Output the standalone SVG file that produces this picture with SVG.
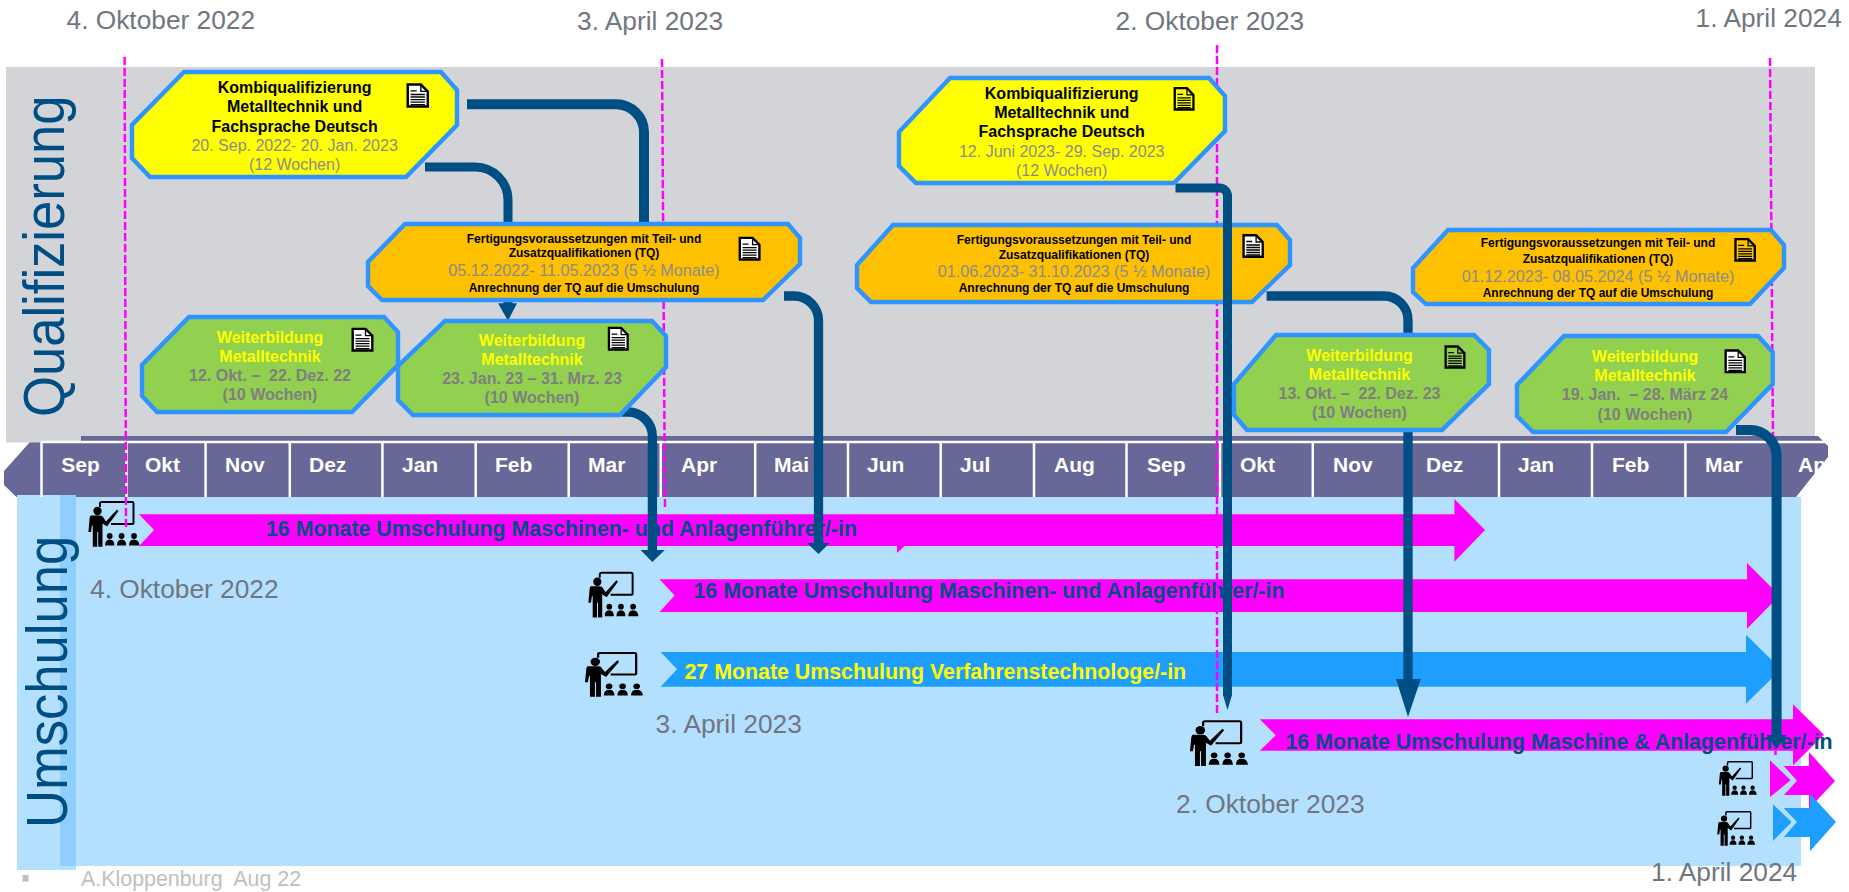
<svg xmlns="http://www.w3.org/2000/svg" xmlns:xlink="http://www.w3.org/1999/xlink" width="1849" height="892" viewBox="0 0 1849 892">
<style>
text{font-family:"Liberation Sans",Arial,sans-serif}
.date{font-size:26.3px;fill:#70767F}
.mon{font-size:21px;font-weight:bold;fill:#fff}
.sep{stroke:#fff;stroke-width:2.5;fill:none}
.side{font-size:52.6px;fill:#004F84}
.node{stroke:#2E94FF;stroke-width:4.4;stroke-linejoin:miter}
.y{fill:#FFFF00}.o{fill:#FFC000}.g{fill:#92D050}
.c{text-anchor:middle}
.b16{font-size:16px;font-weight:bold;fill:#000}
.r16{font-size:16px;fill:#8C8C8C}
.b12{font-size:12px;font-weight:bold;fill:#000}
.r157{font-size:16.2px;fill:#8C8C8C}
.wy{font-size:16px;font-weight:bold;fill:#FFFF00}
.wg{font-size:16px;font-weight:bold;fill:#7F7F7F;white-space:pre}
.bar{font-size:21.35px;font-weight:bold}
.m{fill:#FF00FF}.bl{fill:#1E9FFF}
.navy{fill:#004F84}
.pink{stroke:#FF00FF;stroke-width:2.5;stroke-dasharray:8 3;fill:none}
.con{stroke:#004F84;fill:none}
</style>
<defs>
<symbol id="doc" viewBox="0 0 22 24" preserveAspectRatio="none" overflow="visible">
<path d="M1.2,1.2H14L20.8,8V22.8H1.2Z" stroke="#000" stroke-width="2.4"/>
<path d="M14,1V8H21M4,7.5H10M4,11H18M4,13.5H18M4,16H18M4,18.5H18M4,21H18" stroke="#000" stroke-width="1.3" fill="none"/>
</symbol>
<symbol id="teach" viewBox="0 0 52 46" preserveAspectRatio="none" overflow="visible">
<circle cx="9.5" cy="10" r="4.2"/>
<path d="M3,14.5H12.5Q14,14.5 15,16L18,20.5L29,8.5L30.5,10L19,25.5L14.5,22.5V45.7H10.2V31H9.2V45.7H4.8V24.5L4,24.5L3,31H.4L1.6,17Q2,14.5 3,14.5Z"/>
<path d="M12,6V2.5Q12,1 13.5,1H44.5Q45.5,1 45.5,2.5V22Q45.5,23 44.5,23H23" fill="none" stroke="#000" stroke-width="2"/>
<circle cx="21.7" cy="35" r="2.9"/><circle cx="33.6" cy="35" r="2.9"/><circle cx="46" cy="35" r="2.9"/>
<path d="M17,44.5Q17,38.5 21.7,38.5Q26.4,38.5 26.4,44.5ZM29,44.5Q29,38.5 33.6,38.5Q38.2,38.5 38.2,44.5ZM41,44.5Q41,38.5 46,38.5Q51,38.5 51.5,44.5Z"/>
</symbol>
</defs>

<rect width="1849" height="892" fill="#fff"/>
<g id="panels">
<rect x="6" y="67" width="1809" height="372" fill="#D3D4D8"/>
<path d="M81,436H1818L1828,446V457L1796,497H16.5L4,485V471L30,442H81Z" fill="#676798"/>
<rect x="6" y="436" width="75" height="6.5" fill="#D3D4D8"/>
<rect x="17" y="495" width="59" height="375" fill="#B4E0FF"/>
<rect x="76" y="497" width="1725" height="369" fill="#B4E0FF"/>
<rect x="60" y="495" width="16" height="371" fill="#90CEFF"/>
<rect x="22.5" y="875" width="6" height="6.5" fill="#BFBFBF"/>
</g>
<g id="timeline">
<path class="sep" d="M41,442H1826M41.5,442V497M126.5,442V497M205.6,442V497M289.8,442V497M382.4,442V497M475.7,442V497M568.7,442V497M660.7,442V497M755.2,442V497M848,442V497M940.7,442V497M1034,442V497M1126.5,442V497M1220,442V497M1312.8,442V497M1405.8,442V497M1499,442V497M1592,442V497M1685.4,442V497"/>
<text class="mon" x="61.3" y="472">Sep</text><text class="mon" x="145" y="472">Okt</text><text class="mon" x="225" y="472">Nov</text><text class="mon" x="309" y="472">Dez</text><text class="mon" x="402" y="472">Jan</text><text class="mon" x="495" y="472">Feb</text><text class="mon" x="588" y="472">Mar</text><text class="mon" x="681" y="472">Apr</text><text class="mon" x="774" y="472">Mai</text><text class="mon" x="867" y="472">Jun</text><text class="mon" x="960" y="472">Jul</text><text class="mon" x="1054" y="472">Aug</text><text class="mon" x="1147" y="472">Sep</text><text class="mon" x="1240" y="472">Okt</text><text class="mon" x="1333" y="472">Nov</text><text class="mon" x="1426" y="472">Dez</text><text class="mon" x="1518" y="472">Jan</text><text class="mon" x="1612" y="472">Feb</text><text class="mon" x="1705" y="472">Mar</text><text class="mon" x="1798" y="472">Apr</text>
</g>
<text class="side" transform="translate(64,417) rotate(-90) scale(1,1.1)">Qualifizierung</text>
<text class="side" transform="translate(67,828) rotate(-90) scale(1,1.09)">Umschulung</text>

<g id="bar1"><path class="m" d="M139,514.3H1454.4V499L1485,530L1454.4,561.7V546H904.7L897,553V546H139L154,530Z"/>
<text class="bar navy" x="266" y="536">16 Monate Umschulung Maschinen- und Anlagenführer/-in</text></g>
<g id="bar2"><path class="m" d="M659.5,579.3H1747V563L1779.5,595.6L1747,628.7V612H659.5L674.6,595.5Z"/>
<text class="bar navy" x="693.5" y="598">16 Monate Umschulung Maschinen- und Anlagenführer/-in</text></g>
<g id="bar3"><path class="bl" d="M660.7,652H1746V634.7L1781,669.2L1746,703.7V686.7H660.7L677,669.3Z"/>
<text class="bar" fill="#FFFF00" x="684.5" y="679">27 Monate Umschulung Verfahrenstechnologe/-in</text></g>
<g id="bar4"><path class="m" d="M1259.8,719.3H1793V704.3L1824,734.7L1793,765.3V750.7H1259.8L1275.7,735.3Z"/>
<text class="bar navy" x="1285.5" y="748.7">16 Monate Umschulung Maschine &amp; Anlagenführer/-in</text></g>
<g id="arrow5"><path class="m" d="M1770,760.3L1790.6,780.3L1770,797ZM1783.8,766H1809V752L1835,781L1809,808.7V795H1784L1797,780.7Z"/></g>
<g id="arrow6"><path class="bl" d="M1773,804.3L1791.6,822L1773,841ZM1783.8,808H1810V793.7L1836,822L1810,851.3V837H1783.8L1797,822Z"/></g>

<g id="dates">
<text class="date" x="66.5" y="29">4. Oktober 2022</text>
<text class="date" x="577" y="30">3. April 2023</text>
<text class="date" x="1115.6" y="30">2. Oktober 2023</text>
<text class="date" x="1695.6" y="26.7">1. April 2024</text>
<text class="date" x="90" y="597.7">4. Oktober 2022</text>
<text class="date" x="655.6" y="732.7">3. April 2023</text>
<text class="date" x="1176" y="812.7">2. Oktober 2023</text>
<text class="date" x="1651" y="880.7">1. April 2024</text>
<text x="81" y="886.3" font-size="21.4" fill="#BFBFBF" style="white-space:pre">A.Kloppenburg  Aug 22</text>
</g>

<g id="icons">
<use xlink:href="#teach" href="#teach" x="88" y="501" width="52" height="46"/>
<use xlink:href="#teach" href="#teach" x="588" y="571.7" width="51" height="46"/>
<use xlink:href="#teach" href="#teach" x="584.5" y="652" width="59" height="45"/>
<use xlink:href="#teach" href="#teach" x="1189.5" y="720.3" width="59" height="46"/>
<use xlink:href="#teach" href="#teach" x="1718.6" y="761" width="38.5" height="35"/>
<use xlink:href="#teach" href="#teach" x="1717" y="811" width="38.5" height="35"/>
</g>

<g id="milestones">
<path class="pink" d="M124.6,57L126,530"/>
<path class="pink" d="M662,59L665,508"/>
<path class="pink" d="M1217,45V715"/>
<path class="pink" d="M1770,58L1775.5,755"/>
</g>

<g id="node-fert-2">
<polygon class="node o" points="893,225 1277,225 1290,240 1290,265 1252,302 871,302 857,288 857,265"/>
<text class="b12 c" x="1074" y="243.7">Fertigungsvoraussetzungen mit Teil- und</text>
<text class="b12 c" x="1074" y="258.7">Zusatzqualifikationen (TQ)</text>
<text class="r157 c" x="1074" y="276.7">01.06.2023- 31.10.2023 (5 ½ Monate)</text>
<text class="b12 c" x="1074" y="291.7">Anrechnung der TQ auf die Umschulung</text>
<use xlink:href="#doc" href="#doc" x="1242.4" y="234" width="21.5" height="24" fill="#fff"/>
</g>

<g id="connectors">
<path class="con" stroke-width="10" d="M467,104.3H616A28,28 0 0 1 644,132V226"/>
<path class="con" stroke-width="9" d="M425,167H475A33,33 0 0 1 508,200V304"/>
<polygon class="navy" points="498,303.3 517,303.3 508,320.7"/>
<path class="con" stroke-width="9.3" d="M622,412H628A24.4,24.4 0 0 1 652.4,436.4V551"/>
<polygon class="navy" points="640.5,550 664.7,550 652.4,562"/>
<path class="con" stroke-width="9.3" d="M784,296H794A24.5,24.5 0 0 1 818.5,320.5V544"/>
<polygon class="navy" points="807,543 829.6,543 818.5,554"/>
<path class="con" stroke-width="9" d="M1175.5,188H1219.5A8,8 0 0 1 1227.5,196V696"/>
<polygon class="navy" points="1223,695 1232,695 1227.5,710"/>
<path class="con" stroke-width="9.3" d="M1266.6,296H1384A24,24 0 0 1 1408,320V680"/>
<polygon class="navy" points="1396,679 1420.8,679 1408,717"/>
<path class="con" stroke-width="10" d="M1736,430H1750A26.6,26.6 0 0 1 1776.6,456.6V736"/>
<polygon class="navy" points="1766.5,735 1786.5,735 1776.6,749"/>
</g>

<g id="node-kombi-1">
<polygon class="node y" points="184,72 441,72 457,90 457,125 406,177 150,177 132,158 132,125"/>
<text class="b16 c" x="294.6" y="93">Kombiqualifizierung</text>
<text class="b16 c" x="294.6" y="112">Metalltechnik und</text>
<text class="b16 c" x="294.6" y="132">Fachsprache Deutsch</text>
<text class="r16 c" x="294.6" y="151">20. Sep. 2022- 20. Jan. 2023</text>
<text class="r16 c" x="294.6" y="170">(12 Wochen)</text>
<use xlink:href="#doc" href="#doc" x="406.5" y="83.3" width="22.5" height="24.4" fill="#fff"/>
</g>
<g id="node-kombi-2">
<polygon class="node y" points="950,78 1209,78 1225,96 1225,131 1174,183 916,183 899,166 899,132"/>
<text class="b16 c" x="1061.7" y="99.3">Kombiqualifizierung</text>
<text class="b16 c" x="1061.7" y="118.3">Metalltechnik und</text>
<text class="b16 c" x="1061.7" y="137">Fachsprache Deutsch</text>
<text class="r16 c" x="1061.7" y="157">12. Juni 2023- 29. Sep. 2023</text>
<text class="r16 c" x="1061.7" y="176">(12 Wochen)</text>
<use xlink:href="#doc" href="#doc" x="1173.6" y="87" width="21" height="23.7" fill="#FFFF00"/>
</g>
<g id="node-fert-1">
<polygon class="node o" points="405,224 788,224 800,238 800,264 763,300 382,300 368,286 368,262"/>
<text class="b12 c" x="584" y="243">Fertigungsvoraussetzungen mit Teil- und</text>
<text class="b12 c" x="584" y="257">Zusatzqualifikationen (TQ)</text>
<text class="r157 c" x="584" y="276">05.12.2022- 11.05.2023 (5 ½ Monate)</text>
<text class="b12 c" x="584" y="291.7">Anrechnung der TQ auf die Umschulung</text>
<use xlink:href="#doc" href="#doc" x="738.6" y="236.7" width="22" height="24" fill="#fff"/>
</g>
<g id="node-fert-3">
<polygon class="node o" points="1448,230 1771,230 1784,245 1784,268 1750,304 1426,304 1413,292 1413,268"/>
<text class="b12 c" x="1598" y="247.3">Fertigungsvoraussetzungen mit Teil- und</text>
<text class="b12 c" x="1598" y="263">Zusatzqualifikationen (TQ)</text>
<text class="r157 c" x="1598" y="282">01.12.2023- 08.05.2024 (5 ½ Monate)</text>
<text class="b12 c" x="1598" y="297.3">Anrechnung der TQ auf die Umschulung</text>
<use xlink:href="#doc" href="#doc" x="1734.3" y="238" width="21.7" height="23.7" fill="#FFC000"/>
</g>
<g id="node-wb-1">
<polygon class="node g" points="189,317 384,317 398,332 398,365 352,412 157,412 142,396 142,365"/>
<text class="wy c" x="270" y="342.7">Weiterbildung</text>
<text class="wy c" x="270" y="362">Metalltechnik</text>
<text class="wg c" x="270" y="381">12. Okt. –  22. Dez. 22</text>
<text class="wg c" x="270" y="399.7">(10 Wochen)</text>
<use xlink:href="#doc" href="#doc" x="351.5" y="327.7" width="22" height="24" fill="#fff"/>
</g>
<g id="node-wb-2">
<polygon class="node g" points="445,321 652,321 666,336 666,367 620,415 413,415 398,400 398,366"/>
<text class="wy c" x="532" y="345.7">Weiterbildung</text>
<text class="wy c" x="532" y="365">Metalltechnik</text>
<text class="wg c" x="532" y="384">23. Jan. 23 – 31. Mrz. 23</text>
<text class="wg c" x="532" y="403">(10 Wochen)</text>
<use xlink:href="#doc" href="#doc" x="607.8" y="326.7" width="21" height="24" fill="#fff"/>
</g>
<g id="node-wb-3">
<polygon class="node g" points="1276,335 1474,335 1489,350 1489,384 1442,430 1247,430 1234,415 1234,384"/>
<text class="wy c" x="1359.5" y="361">Weiterbildung</text>
<text class="wy c" x="1359.5" y="380">Metalltechnik</text>
<text class="wg c" x="1359.5" y="399">13. Okt. –  22. Dez. 23</text>
<text class="wg c" x="1359.5" y="418">(10 Wochen)</text>
<use xlink:href="#doc" href="#doc" x="1444.5" y="345.3" width="21" height="23.4" fill="#92D050"/>
</g>
<g id="node-wb-4">
<polygon class="node g" points="1564,336 1758,336 1772.7,352 1772.7,384 1726,432 1533,432 1517,416 1517,385"/>
<text class="wy c" x="1645" y="362">Weiterbildung</text>
<text class="wy c" x="1645" y="381">Metalltechnik</text>
<text class="wg c" x="1645" y="400">19. Jan.  – 28. März 24</text>
<text class="wg c" x="1645" y="420">(10 Wochen)</text>
<use xlink:href="#doc" href="#doc" x="1724.5" y="349.3" width="21.5" height="24" fill="#fff"/>
</g>
</svg>
